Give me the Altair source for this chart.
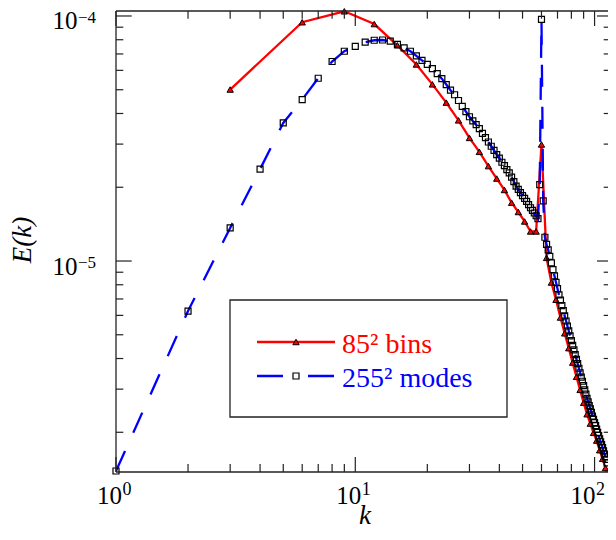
import altair as alt
import pandas as pd

# ---------------- data ----------------
k_modes = list(range(1, 124))
E_modes = [
    1.39e-6, 6.25e-6, 1.365e-5, 2.37e-5, 3.66e-5, 4.56e-5, 5.57e-5, 6.52e-5, 7.18e-5, 7.52e-5,
    7.82e-5, 7.96e-5, 7.98e-5, 7.89e-5, 7.66e-5, 7.41e-5, 7.18e-5, 6.87e-5, 6.59e-5, 6.35e-5,
    6.10e-5, 5.82e-5, 5.55e-5, 5.25e-5, 4.98e-5, 4.77e-5, 4.52e-5, 4.28e-5, 4.07e-5, 3.88e-5,
    3.73e-5, 3.60e-5, 3.47e-5, 3.32e-5, 3.19e-5, 3.06e-5, 2.94e-5, 2.83e-5, 2.72e-5, 2.63e-5,
    2.53e-5, 2.45e-5, 2.36e-5, 2.29e-5, 2.20e-5, 2.11e-5, 2.02e-5, 1.96e-5, 1.90e-5, 1.85e-5,
    1.80e-5, 1.75e-5, 1.70e-5, 1.65e-5, 1.61e-5, 1.57e-5, 1.53e-5, 1.49e-5, 2.05e-5, 9.69e-5,
    1.76e-5, 1.25e-5, 1.17e-5, 1.11e-5, 1.045e-5, 9.82e-6, 9.23e-6, 8.69e-6, 8.18e-6, 7.71e-6,
    7.28e-6, 6.92e-6, 6.58e-6, 6.27e-6, 5.97e-6, 5.69e-6, 5.43e-6, 5.19e-6, 4.95e-6, 4.73e-6,
    4.53e-6, 4.34e-6, 4.15e-6, 3.97e-6, 3.81e-6, 3.65e-6, 3.50e-6, 3.36e-6, 3.23e-6, 3.10e-6,
    2.98e-6, 2.86e-6, 2.75e-6, 2.66e-6, 2.57e-6, 2.49e-6, 2.41e-6, 2.33e-6, 2.26e-6, 2.19e-6,
    2.13e-6, 2.06e-6, 2.00e-6, 1.94e-6, 1.88e-6, 1.83e-6, 1.78e-6, 1.73e-6, 1.68e-6, 1.63e-6,
    1.59e-6, 1.55e-6, 1.50e-6, 1.46e-6, 1.42e-6, 1.38e-6, 1.35e-6, 1.31e-6, 1.28e-6, 1.25e-6,
    1.21e-6, 1.18e-6, 1.15e-6,
]

k_bins = [3, 6, 9, 12, 15, 18, 21, 24, 27, 30, 33, 36, 39, 42, 45, 48, 51, 54, 57, 60,
          63, 66, 69, 72, 75, 78, 81, 84, 87, 90, 93, 96, 99, 102, 105, 108, 111, 114, 117, 120]
E_bins = [
    5.01e-5, 9.43e-5, 1.045e-4, 9.27e-5, 7.59e-5, 6.34e-5, 5.26e-5, 4.43e-5, 3.75e-5, 3.18e-5,
    2.79e-5, 2.44e-5, 2.17e-5, 1.95e-5, 1.73e-5, 1.585e-5, 1.45e-5, 1.32e-5, 1.32e-5, 2.99e-5,
    1.03e-5, 8.17e-6, 6.95e-6, 5.88e-6, 5.07e-6, 4.41e-6, 3.85e-6, 3.37e-6, 2.98e-6, 2.64e-6,
    2.37e-6, 2.17e-6, 1.99e-6, 1.85e-6, 1.69e-6, 1.56e-6, 1.43e-6, 1.31e-6, 1.22e-6, 1.13e-6,
]

x_major = [1, 10, 100]
x_major_exp = ["0", "1", "2"]
x_minor = [2, 3, 4, 5, 6, 7, 8, 9, 20, 30, 40, 50, 60, 70, 80, 90]
y_major = [1e-5, 1e-4]
y_major_exp = ["\u22125", "\u22124"]
y_minor = [2e-6, 3e-6, 4e-6, 5e-6, 6e-6, 7e-6, 8e-6, 9e-6,
           2e-5, 3e-5, 4e-5, 5e-5, 6e-5, 7e-5, 8e-5, 9e-5]

legend_labels = ["85\u00b2 bins", "255\u00b2 modes"]
x_title = "k"
y_title = "E(k)"

X_DOMAIN = [1, 113.8]
Y_DOMAIN = [1.377e-6, 1.048e-4]

# ---------------- layout ----------------
W, H = 492, 461
FONT = "Liberation Serif"
RED, BLUE = "#ff0000", "#0000ff"
AX = "#222222"

xs = alt.Scale(type="log", domain=X_DOMAIN, nice=False)
ys = alt.Scale(type="log", domain=Y_DOMAIN, nice=False)

def X(field="k"):
    return alt.X(f"{field}:Q", scale=xs, axis=None)

def Y(field="E"):
    return alt.Y(f"{field}:Q", scale=ys, axis=None)

modes = pd.DataFrame({"k": k_modes, "E": E_modes})
bins = pd.DataFrame({"k": k_bins, "E": E_bins})
inside = f"datum.k <= {X_DOMAIN[1]} && datum.E >= {Y_DOMAIN[0]} && datum.E <= {Y_DOMAIN[1]}"

SQ = 36
TRI = 40

red_line = alt.Chart(bins).mark_line(color=RED, strokeWidth=2.3, clip=True).encode(x=X(), y=Y())
red_pts = alt.Chart(bins).transform_filter(inside).mark_point(
    shape="triangle-up", filled=True, fill=RED, stroke="black", strokeWidth=1.0,
    size=TRI, opacity=1).encode(x=X(), y=Y())
blue_line = alt.Chart(modes).mark_line(color=BLUE, strokeWidth=2.3, strokeDash=[22, 20],
                                        clip=True).encode(x=X(), y=Y())
blue_pts = alt.Chart(modes).transform_filter(inside).mark_point(
    shape="square", filled=False, stroke="black", strokeWidth=1.2, size=SQ,
    opacity=1).encode(x=X(), y=Y())

one = pd.DataFrame({"a": [0]})

# frame (left, top, bottom)
frame_left = alt.Chart(one).mark_rule(color=AX, strokeWidth=1.3).encode(
    x=alt.value(0), y=alt.value(0), y2=alt.value(H))
frame_top = alt.Chart(one).mark_rule(color=AX, strokeWidth=1.3).encode(
    x=alt.value(0), x2=alt.value(W), y=alt.value(0))
frame_bot = alt.Chart(one).mark_rule(color=AX, strokeWidth=1.3).encode(
    x=alt.value(0), x2=alt.value(W), y=alt.value(H))

xmaj = pd.DataFrame({"k": x_major, "exp": x_major_exp})
xmin = pd.DataFrame({"k": x_minor})
ymaj = pd.DataFrame({"E": y_major, "exp": y_major_exp})
ymin = pd.DataFrame({"E": y_minor})

def vticks(df, y0, y1):
    return alt.Chart(df).mark_rule(color=AX, strokeWidth=1.2).encode(
        x=X(), y=alt.value(y0), y2=alt.value(y1))

def hticks(df, x0, x1):
    return alt.Chart(df).mark_rule(color=AX, strokeWidth=1.2).encode(
        y=Y(), x=alt.value(x0), x2=alt.value(x1))

ticks = [
    vticks(xmaj, H, H - 15), vticks(xmin, H, H - 8),
    vticks(xmaj, 0, 15), vticks(xmin, 0, 7.7),
    hticks(ymaj, 0, 15.7), hticks(ymin, 0, 7.3),
    hticks(ymaj, W, W - 11), hticks(ymin, W, W - 4.3),
]

# tick labels (the last x label is nudged left so that it stays inside the page)
def xlabels(filt, shift):
    base = alt.Chart(xmaj).transform_filter(filt).mark_text(
        font=FONT, fontSize=25, align="right", baseline="alphabetic",
        dx=6 + shift, color="black").encode(
        x=X(), y=alt.value(H + 32), text=alt.value("10"))
    sup = alt.Chart(xmaj).transform_filter(filt).mark_text(
        font=FONT, fontSize=18, align="left", baseline="alphabetic",
        dx=6.5 + shift, color="black").encode(
        x=X(), y=alt.value(H + 23), text="exp:N")
    return [base, sup]

xlabs = xlabels("datum.k < 100", 0) + xlabels("datum.k >= 100", -5)

ylab_base = alt.Chart(ymaj).mark_text(font=FONT, fontSize=25, align="right",
                                      baseline="alphabetic", dy=13.5, color="black").encode(
    y=Y(), x=alt.value(-38.5), text=alt.value("10"))
ylab_exp = alt.Chart(ymaj).mark_text(font=FONT, fontSize=17, align="left",
                                     baseline="alphabetic", dy=7.3, color="black").encode(
    y=Y(), x=alt.value(-38), text="exp:N")

# axis titles
xt = alt.Chart(one).mark_text(font=FONT, fontSize=27, fontStyle="italic",
                              align="center", baseline="alphabetic", color="black").encode(
    x=alt.value(249), y=alt.value(513), text=alt.value(x_title))
yt = alt.Chart(one).mark_text(font=FONT, fontSize=27, fontStyle="italic", angle=270,
                              align="center", baseline="middle", color="black").encode(
    x=alt.value(-93), y=alt.value(229), text=alt.value(y_title))

# legend
leg_box = alt.Chart(one).mark_rect(fill="white", stroke=AX, strokeWidth=1.3).encode(
    x=alt.value(114), x2=alt.value(391), y=alt.value(289), y2=alt.value(406))
leg_red = alt.Chart(one).mark_rule(color=RED, strokeWidth=2.3).encode(
    x=alt.value(141), x2=alt.value(219), y=alt.value(331))
leg_red_pt = alt.Chart(one).mark_point(shape="triangle-up", filled=True, fill=RED,
                                       stroke="black", strokeWidth=1.0, size=TRI, opacity=1).encode(
    x=alt.value(180), y=alt.value(331))
leg_blue = alt.Chart(one).mark_rule(color=BLUE, strokeWidth=2.3, strokeDash=[26, 25]).encode(
    x=alt.value(141), x2=alt.value(219), y=alt.value(365))
leg_blue_pt = alt.Chart(one).mark_point(shape="square", filled=False, stroke="black",
                                        strokeWidth=1.2, size=SQ, opacity=1).encode(
    x=alt.value(180), y=alt.value(365))
leg_t1 = alt.Chart(one).mark_text(font=FONT, fontSize=28, align="left",
                                  baseline="alphabetic", color=RED).encode(
    x=alt.value(226), y=alt.value(342), text=alt.value(legend_labels[0]))
leg_t2 = alt.Chart(one).mark_text(font=FONT, fontSize=28, align="left",
                                  baseline="alphabetic", color=BLUE).encode(
    x=alt.value(226), y=alt.value(376), text=alt.value(legend_labels[1]))

chart = alt.layer(
    red_line, red_pts, blue_line, blue_pts,
    frame_left, frame_top, frame_bot, *ticks,
    *xlabs, ylab_base, ylab_exp, xt, yt,
    leg_box, leg_red, leg_red_pt, leg_blue, leg_blue_pt, leg_t1, leg_t2,
).properties(
    width=W, height=H,
    autosize=alt.AutoSizeParams(type="none"),
    padding={"left": 108, "top": 3, "right": 0, "bottom": 60},
    background="white",
).configure_view(stroke=None)

chart.save("out.html", embed_options={"renderer": "svg", "actions": False})
